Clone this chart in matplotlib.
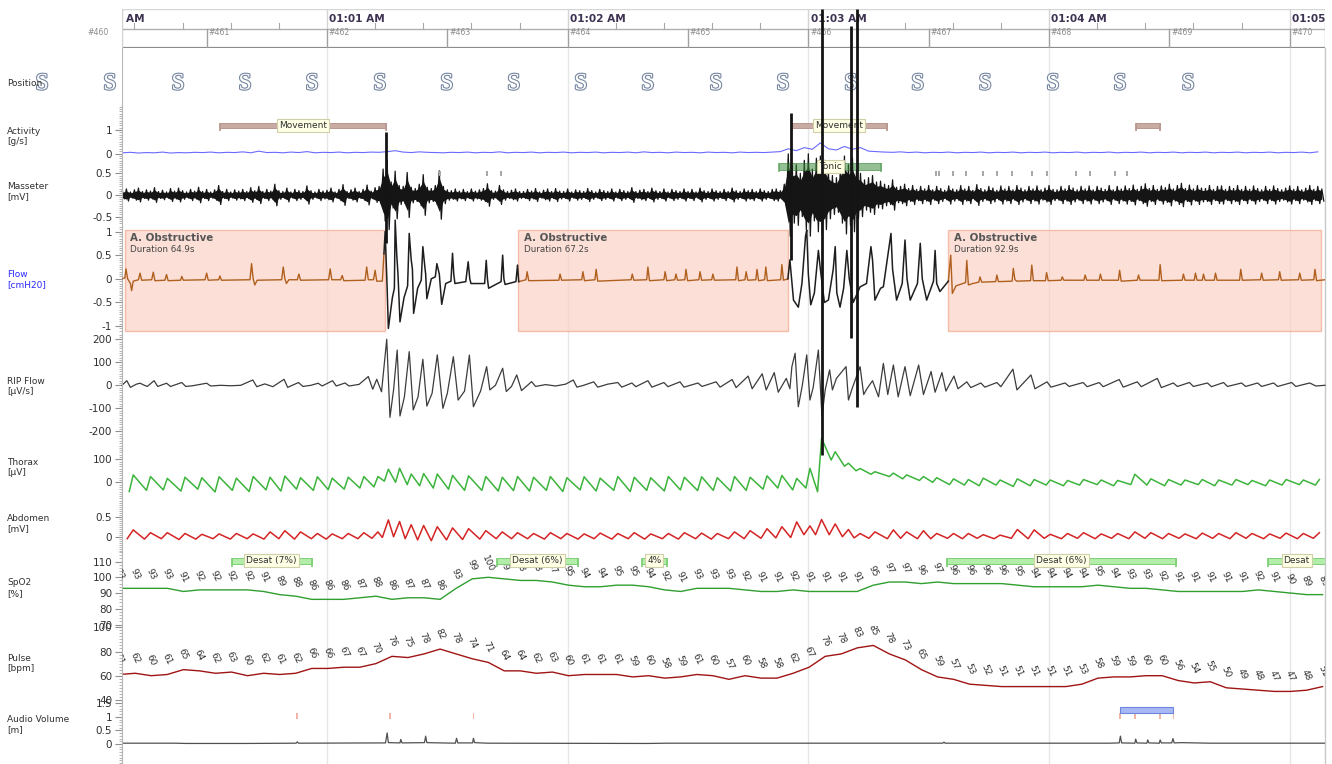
import matplotlib
matplotlib.use("Agg")
import matplotlib.pyplot as plt
import matplotlib.patheffects as pe
from matplotlib.patches import Rectangle
from matplotlib.ticker import FixedLocator, MultipleLocator, NullLocator, FuncFormatter

plt.rcParams['font.family'] = ['DejaVu Sans']
plt.rcParams['axes.unicode_minus'] = False

# ---------------------------------------------------------------- data
# time in seconds after 01:00:00
T_START, T_END = 8.9, 308.8
minute_t = [0, 60, 120, 180, 240, 300]
minute_labels = ["01:00 AM", "01:01 AM", "01:02 AM", "01:03 AM", "01:04 AM", "01:05 AM"]
epoch_numbers = list(range(460, 471))
EPOCH_SEC = 30
HEADER_TICK_SEC = 12

position_t = [-11.0, 5.9, 22.9, 39.6, 56.3, 73.2, 89.9, 106.6, 123.3, 140.0,
              157.0, 173.7, 190.6, 207.3, 224.1, 241.0, 257.7, 274.7]
position_code = ["S"] * len(position_t)

# activity, 2 s grid starting at 9 s
activity_t0, activity_dt = 9.0, 2.0
activity = [.03, .05, .02, .04, .03, .06, .02, .04, .03, .05,
            .04, .06, .03, .05, .04, .07, .03, .10, .04, .05,
            .03, .06, .04, .08, .03, .05, .04, .06, .03, .05,
            .04, .06, .05, .08, .12, .06, .04, .07, .05, .04,
            .03, .05, .04, .06, .03, .05, .04, .07, .03, .05,
            .04, .06, .03, .05, .04, .06, .03, .05, .04, .06,
            .03, .05, .04, .06, .03, .07, .04, .05, .03, .06,
            .04, .05, .03, .06, .04, .05, .03, .06, .04, .05,
            .04, .06, .08, .20, .12, .25, .18, .45, .20, .15,
            .30, .18, .25, .10, .08, .06, .05, .07, .04, .06,
            .03, .05, .04, .06, .03, .05, .04, .06, .03, .05,
            .04, .06, .03, .05, .04, .06, .03, .05, .04, .06,
            .03, .05, .04, .06, .03, .05, .04, .06, .03, .05,
            .04, .06, .03, .05, .04, .06, .03, .05, .04, .06,
            .03, .05, .04, .06, .03, .05, .04, .06, .03, .07]
movement_events = [(33.3, 74.7, "Movement"), (175.9, 199.6, "Movement"), (261.7, 267.7, "")]

# masseter EMG envelope (mV), 1 s grid starting at 9 s
emg_t0, emg_dt = 9.0, 1.0
emg_env = [.09, .14, .07, .12, .16, .08, .12, .09, .17, .08,
           .11, .07, .15, .09, .16, .10, .07, .13, .09, .18,
           .08, .13, .07, .12, .22, .08, .13, .07, .12, .09,
           .13, .08, .17, .10, .20, .08, .13, .09, .25, .10,
           .08, .16, .07, .13, .10, .08, .21, .10, .07, .13,
           .09, .11, .16, .07, .13, .24, .08, .12, .16, .08,
           .13, .23, .09, .17, .20, .60, .80, .30, .55, .22,
           .20, .52, .18, .15, .25, .47, .18, .15, .22, .56,
           .20, .12, .10, .14, .09, .13, .08, .14, .09, .12,
           .15, .26, .10, .09, .22, .12, .08, .11, .14, .08,
           .08, .13, .09, .15, .07, .11, .14, .08, .15, .09,
           .08, .14, .07, .12, .10, .08, .15, .10, .07, .13,
           .10, .08, .14, .07, .13, .10, .08, .17, .08, .11,
           .13, .08, .16, .10, .08, .14, .07, .13, .10, .08,
           .14, .08, .13, .07, .16, .10, .08, .14, .10, .08,
           .13, .08, .16, .10, .08, .14, .10, .13, .08, .14,
           .10, .08, .13, .14, .10, .25, .95, .65, .70, .50,
           .80, .95, .60, .85, .90, .80, .55, .45, .40, .65,
           .90, .70, .85, .55, .50, .35, .40, .45, .30, .32,
           .25, .22, .35, .18, .20, .25, .15, .22, .13, .20,
           .14, .22, .12, .20, .15, .11, .21, .14, .12, .22,
           .14, .20, .11, .24, .15, .12, .20, .16, .11, .21,
           .14, .20, .12, .22, .16, .12, .20, .14, .21, .12,
           .16, .22, .13, .12, .20, .14, .22, .16, .12, .20,
           .14, .21, .12, .20, .16, .13, .22, .12, .20, .14,
           .21, .15, .23, .13, .20, .26, .15, .22, .13, .21,
           .17, .25, .14, .22, .27, .15, .23, .14, .22, .16,
           .15, .22, .13, .20, .21, .13, .20, .15, .22, .13,
           .20, .13, .21, .15, .12, .20, .13, .21, .15, .12,
           .16, .21, .13, .20, .12, .16, .22, .13, .20, .14]
emg_spike_t = [74.7, 175.6, 183.4, 190.6, 192.1]
emg_spike_top = [1.45, 1.9, 4.3, 3.9, 4.3]
emg_spike_bottom = [-1.1, -1.5, -6.0, -3.3, -4.9]
tonic_events = [(172.8, 198.1, "Tonic")]
emg_marker_t = [88.2, 99.9, 103.4, 211.9, 212.6, 216.1, 219.4, 223.6, 227.1,
                230.8, 235.8, 239.5, 246.8, 250.2, 256.5, 259.4]

# nasal flow (cmH2O): apnea stretches and breathing stretches
flow_apnea1_t = [8.9, 9.6, 9.9, 10.3, 11.0, 11.3, 11.7, 13.0, 13.4, 13.8, 16.3, 16.7, 17.1,
                 19.6, 20.0, 20.4, 23.5, 23.8, 24.2, 29.6, 30.0, 30.4, 33.0, 33.3, 33.7,
                 40.8, 41.2, 41.6, 42.0, 42.6, 48.7, 49.1, 49.5, 49.9, 50.5, 52.6, 53.0,
                 53.4, 60.4, 60.8, 61.2, 63.4, 63.8, 64.2, 69.5, 69.9, 70.3, 71.6, 72.0,
                 72.4, 73.8, 74.2]
flow_apnea1_v = [0.0, 0.02, 0.21, 0.0, -0.1, -0.25, -0.05, -0.02, 0.12, -0.03, -0.02, 0.14, -0.04,
                 -0.03, 0.09, -0.04, -0.03, 0.05, -0.03, -0.02, 0.12, -0.03, -0.02, 0.06, -0.03,
                 -0.02, 0.32, 0.0, -0.13, -0.03, -0.02, 0.25, 0.0, -0.1, -0.02, -0.02, 0.1,
                 -0.03, -0.02, 0.21, -0.02, -0.02, 0.07, -0.04, -0.03, 0.25, -0.02, -0.02, 0.18,
                 -0.05, -0.05, 0.53]
flow_breath1_t = [74.2, 74.5, 75.0, 75.3, 76.3, 76.8, 77.0, 77.4, 77.7, 78.2, 79.2, 80.1, 80.5,
                  81.0, 81.3, 81.6, 82.6, 83.5, 83.9, 84.4, 84.6, 84.9, 86.0, 87.0, 87.4, 88.0,
                  88.6, 89.6, 90.9, 91.3, 91.6, 91.9, 94.6, 95.2, 95.6, 95.9, 99.3, 99.7, 100.0,
                  100.3, 103.4, 103.8, 104.1, 104.4, 107.1, 107.5, 107.8]
flow_breath1_v = [0.53, 1.0, -0.2, -1.05, -0.4, -0.2, 1.24, 0.5, 0.1, -0.91, -0.4, -0.15, 0.96,
                  0.4, 0.2, -0.73, -0.2, -0.03, 0.68, 0.25, 0.1, -0.42, 0.0, 0.04, 0.32, 0.1,
                  -0.54, -0.1, -0.05, 0.54, 0.1, -0.1, -0.06, 0.36, 0.0, -0.1, -0.1, 0.39, 0.0,
                  -0.2, -0.06, 0.5, 0.0, -0.12, -0.06, 0.29, -0.06]
flow_apnea2_t = [107.8, 109.6, 109.9, 110.3, 117.8, 118.1, 118.5, 123.5, 123.8, 124.2, 126.8,
                 127.1, 127.5, 135.8, 136.1, 136.5, 139.7, 140.0, 140.4, 144.0, 144.3, 144.7,
                 146.7, 147.0, 147.4, 149.2, 149.5, 149.9, 152.7, 153.0, 153.4, 155.9, 156.2,
                 156.6, 161.9, 162.2, 162.6, 164.2, 164.5, 164.9, 166.9, 167.2, 167.6, 169.1,
                 169.4, 169.8, 173.1, 173.4, 173.8, 174.9]
flow_apnea2_v = [-0.06, -0.02, 0.15, -0.04, -0.03, 0.1, -0.03, -0.02, 0.15, -0.04, -0.02,
                 0.2, -0.05, -0.02, 0.1, -0.03, -0.02, 0.25, -0.04, -0.02, 0.15, -0.04,
                 -0.02, 0.1, -0.03, -0.02, 0.2, -0.04, -0.02, 0.15, -0.03, -0.02, 0.1,
                 -0.03, -0.02, 0.25, -0.04, -0.02, 0.15, -0.03, -0.02, 0.2, -0.04, -0.02,
                 0.25, -0.04, -0.02, 0.3, -0.03, 0.0]
flow_breath2_t = [174.9, 175.4, 176.3, 177.5, 178.4, 179.3, 179.6, 180.0, 180.6, 181.5, 182.5,
                  183.0, 184.0, 185.0, 186.2, 186.7, 187.1, 187.9, 188.8, 189.6, 190.2, 191.2,
                  192.9, 194.5, 195.6, 196.0, 196.6, 198.0, 198.7, 200.6, 201.0, 202.0, 203.4,
                  204.1, 204.6, 205.4, 207.2, 207.9, 208.4, 209.5, 211.2, 211.6, 212.0, 212.8,
                  214.9]
flow_breath2_v = [0.0, 0.4, -0.45, -0.6, -0.1, 0.9, 1.03, 0.1, -0.55, -0.3, 0.6, 0.2, -0.5,
                  -0.45, 0.2, 0.68, -0.3, -0.6, -0.2, 0.6, 0.0, -0.5, -0.17, -0.1, 0.68, 0.4,
                  -0.45, -0.2, -0.17, 0.96, 0.2, -0.45, -0.1, 0.82, 0.0, -0.45, -0.1, 0.75, 0.0,
                  -0.45, -0.05, 0.6, -0.1, -0.27, -0.05]
flow_apnea3_t = [214.9, 215.5, 215.9, 216.8, 219.2, 219.5, 219.9, 221.0, 222.5, 222.8, 223.2,
                 226.7, 227.0, 227.4, 230.8, 231.1, 231.5, 232.0, 235.4, 235.7, 236.1, 239.1,
                 239.4, 239.8, 243.0, 243.3, 243.7, 248.7, 249.0, 249.4, 252.5, 252.8, 253.2,
                 257.3, 257.6, 258.0, 262.0, 262.3, 262.7, 267.4, 267.7, 268.1, 273.2, 273.5,
                 273.9, 276.2, 276.5, 276.9, 278.2, 278.5, 278.9, 281.2, 281.5, 281.9, 287.5,
                 287.8, 288.2, 292.7, 293.0, 293.4, 297.2, 297.5, 297.9, 302.2, 302.5, 302.9,
                 306.0, 306.3, 306.7, 308.8]
flow_apnea3_v = [-0.05, 0.5, -0.31, -0.15, -0.08, 0.39, -0.13, -0.1, -0.07, 0.04, -0.07,
                 -0.06, 0.08, -0.06, -0.05, 0.22, -0.02, -0.05, -0.04, 0.29, -0.04, -0.04,
                 0.13, -0.04, -0.03, 0.04, -0.03, -0.03, 0.08, -0.03, -0.03, 0.1, -0.03,
                 -0.03, 0.18, -0.05, -0.03, 0.08, -0.03, -0.03, 0.3, -0.04, -0.03, 0.1,
                 -0.03, -0.03, 0.12, -0.03, -0.03, 0.1, -0.03, -0.03, 0.12, -0.03, -0.03,
                 0.2, -0.03, -0.02, 0.12, -0.03, -0.02, 0.15, -0.03, -0.02, 0.12, -0.03,
                 -0.02, 0.2, -0.04, -0.02]
apnea_start = [9.6, 107.7, 214.8]
apnea_duration = [64.9, 67.2, 92.9]
apnea_type = ["A. Obstructive"] * 3

# RIP flow (uV/s)
rip_t = [8.9, 10.1, 11.0, 12.5, 13.4, 14.5, 15.2, 16.9, 17.8, 20.0, 21.0, 23.8, 24.8, 26.5,
         30.0, 31.0, 33.5, 36.0, 38.5, 41.5, 42.5, 44.5, 46.5, 49.3, 50.2, 52.9, 54.0, 56.0,
         57.8, 58.8, 61.4, 62.3, 64.5, 65.5, 68.0, 70.3, 71.4, 72.4, 73.6, 74.9, 75.7, 76.6,
         77.5, 78.2, 79.3, 80.5, 81.5, 82.7, 83.9, 84.9, 86.2, 87.5, 88.9, 90.0, 91.5, 92.7,
         94.3, 95.5, 96.5, 98.3, 99.8, 100.6, 102.0, 103.8, 104.7, 106.0, 107.3, 108.5, 110.0,
         111.0, 112.0, 114.5, 117.0, 119.5, 121.4, 122.3, 124.0, 126.5, 127.5, 130.0, 132.5,
         133.5, 136.0, 137.0, 140.0, 141.0, 144.0, 145.0, 148.0, 149.0, 152.5, 153.5, 157.0,
         158.0, 161.0, 162.0, 165.0, 166.0, 168.5, 169.5, 171.5, 172.5, 174.5, 175.4, 175.9,
         176.7, 177.5, 178.5, 179.6, 180.4, 181.2, 182.5, 183.4, 184.2, 185.3, 186.0, 187.0,
         189.4, 190.0, 191.0, 192.9, 193.8, 194.6, 196.0, 197.5, 198.7, 199.8, 201.2, 202.4,
         204.1, 205.4, 207.5, 208.7, 210.6, 211.6, 213.3, 214.3, 216.3, 217.3, 219.5, 220.5,
         223.0, 224.0, 227.0, 228.0, 231.0, 232.0, 235.5, 236.5, 239.5, 240.5, 244.0, 245.0,
         248.5, 249.5, 252.5, 253.5, 257.5, 258.5, 262.0, 263.0, 267.0, 268.0, 271.0, 272.0,
         275.0, 276.0, 279.5, 280.5, 283.5, 284.5, 288.0, 289.0, 292.0, 293.0, 296.0, 297.0,
         300.5, 301.5, 305.0, 306.5, 308.8]
rip_v = [0, 20, -9, 5, 9, 0, -5, 20, -5, 9, -5, 12, -5, -2,
         9, -3, 0, -2, 0, 23, -6, 6, -6, 26, -9, 12, -5, 0,
         9, -3, 20, -3, 10, -3, 4, 38, -17, 26, -28, 200, -139, -20,
         153, -133, -50, 146, -107, -50, 113, -90, -35, 132, -100, -35, 124, -64,
         -25, 131, -93, -25, 81, -20, 0, 74, -27, -5, 45, -23, 0,
         16, -5, 3, -3, 5, 23, -8, 0, 15, -8, 5, 12,
         -8, 10, -6, 20, -8, 12, -6, 15, -8, 10, -5, 15,
         -8, 25, -10, 40, -15, 50, -20, 55, -30, 30, -15, 81,
         139, -93, 0, 132, -64, -10, 153, -136, -20, 67, -20, 30,
         81, -64, -10, 81, -40, -15, 20, -50, 95, -40, 88, -50,
         81, -45, 88, -40, 60, -30, 55, -25, 40, -15, 15, -10,
         10, -8, 12, -6, 70, -20, 45, -15, 15, -8, 10, -5,
         12, -6, 12, -6, 25, -8, 15, -6, 30, -10, 10, -5,
         12, -5, 10, -6, 12, -5, 10, -5, 10, -5, 10, -5,
         12, -5, 10, -3, 0]

# breath peak times shared by thorax and abdomen belts
breath_t = [11.7, 16.0, 20.2, 24.6, 28.8, 33.1, 37.4, 41.6, 45.8, 49.5, 53.4, 57.6, 61.3, 65.3,
            69.2, 72.7, 75.3, 78.1, 81.0, 84.1, 87.5, 91.3, 95.3, 99.6, 103.7, 107.5,
            111.5, 115.7, 119.8, 124.1, 128.1, 132.5, 136.6, 140.7, 145.1, 149.1, 153.4, 157.3,
            161.6, 165.5, 169.7, 173.4, 177.1, 180.4, 183.3, 186.7, 190.0, 192.9, 196.6, 201.2,
            204.5, 208.7, 212.0, 216.2, 219.9, 223.6, 227.8, 232.1, 236.3, 240.3, 244.6, 248.6,
            253.0, 257.1, 261.4, 265.4, 269.8, 273.9, 278.2, 282.3, 286.6, 290.6, 295.0, 299.1,
            303.4, 307.4]
thorax_peak = [32, 25, 17, 22, 20, 24, 18, 25, 22, 27, 20, 24, 18, 22, 25, 25,
               57, 61, 36, 38, 36, 30, 28, 25, 22, 25,
               22, 25, 20, 24, 18, 25, 22, 20, 25, 22, 24, 20, 25, 22, 28, 30,
               17, 61, 191, 133, 83, 60, 46, 40, 32, 25, 20,
               15, 12, 18, 10, 15, 12, 10, 8, 12, 10, 8, 35, 15, 12, 10, 12, 10, 12, 8, 10,
               12, 10, 12]
thorax_trough = [-40, -35, -33, -38, -30, -42, -35, -40, -33, -38, -30, -35, -32, -30, -25, -20,
                 5, 0, -10, -15, -25, -30, -35, -35, -38, -36,
                 -38, -35, -40, -33, -38, -35, -40, -35, -38, -33, -36, -35, -38, -35, -30, -25,
                 -33, -25, -41, 97, 70, 50, 35, 25, 15, 8, 0,
                 -10, -12, -15, -12, -18, -15, -12, -15, -12, -10, -15, -10, -12, -15, -12,
                 -10, -15, -12, -10, -15, -12, -10, -12]
abdomen_peak = [.17, .10, .10, .08, .06, .07, .08, .07, .12, .15, .12, .08, .07, .08, .10, .12,
                .42, .38, .30, .28, .25, .22, .20, .15, .12, .10,
                .08, .10, .08, .07, .09, .08, .10, .07, .08, .10, .09, .08, .12, .15, .20, .25,
                .37, .27, .43, .32, .18, .08, .12, .17, .12, .15, .08,
                .08, .08, .05, .04, .18, .17, .06, .08, .10, .07, .08, .12, .10, .08, .07, .09,
                .08, .10, .08, .07, .09, .08, .10]
abdomen_trough = [-.05, -.06, -.05, -.07, -.06, -.05, -.06, -.05, -.06, -.05, -.06, -.05, -.06,
                  -.05, -.05, -.04,
                  -.02, .00, -.05, -.08, -.10, -.08, -.07, -.06, -.05, -.05,
                  -.05, -.06, -.05, -.06, -.05, -.06, -.05, -.06, -.05, -.06, -.05, -.06, -.05,
                  -.05, -.04, -.03,
                  -.02, .05, .05, .05, .00, -.03, -.04, -.05, -.04, -.05, -.05,
                  -.04, -.05, -.04, -.05, -.04, -.05, -.04, -.05, -.04, -.05, -.04, -.05, -.04,
                  -.05, -.04, -.05, -.04, -.05, -.04, -.05, -.04, -.05, -.04]

# oximetry, one sample every 4 s
ox_t0, ox_dt = 8.2, 4.0
spo2 = [93, 93, 93, 93, 91, 92, 92, 92, 92, 91, 89, 88, 86, 86, 86, 87, 88, 86, 87, 87, 86,
        93, 99, 100, 99, 98, 98, 97, 95, 94, 94, 95, 95, 94, 92, 91, 93, 93, 93, 92, 91, 91,
        92, 91, 91, 91, 91, 95, 97,
        97, 96, 97, 96, 96, 96, 96, 95, 94, 94, 94, 94, 95, 94, 93, 93, 92, 91, 91, 91, 91,
        91, 92, 91, 90, 89, 89]
pulse = [61, 62, 60, 61, 65, 64, 62, 63, 60, 62, 61, 62, 66, 66, 67, 67, 70, 76, 75, 78, 82,
         78, 74, 71, 64, 64, 62, 63, 60, 61, 61, 61, 59, 60, 58, 59, 61, 60, 57, 60, 58, 58,
         62, 67, 76, 78, 83, 85, 78,
         73, 65, 59, 57, 53, 52, 51, 51, 51, 51, 51, 53, 58, 59, 59, 60, 60, 56, 54, 55, 50,
         49, 48, 47, 47, 48, 51]
desat_events = [(36.2, 56.2, "Desat (7%)"), (102.3, 122.7, "Desat (6%)"), (138.5, 144.7, "4%"),
                (214.5, 271.7, "Desat (6%)"), (294.7, 320.0, "Desat")]

# audio volume
audio_t = [8.9, 22.0, 25.0, 40.0, 52.3, 52.6, 52.9, 74.6, 75.0, 75.3, 78.2, 78.4, 78.7, 84.3,
           84.6, 84.9, 92.0, 92.3, 92.6, 96.3, 96.5, 96.8, 100.0, 140.0, 145.0, 170.0, 185.0,
           200.0, 213.5, 213.8, 214.1, 236.0, 255.0, 257.5, 257.8, 258.1, 261.4, 261.6, 261.9,
           264.4, 264.6, 264.9, 267.5, 267.7, 268.0, 270.6, 270.9, 271.2, 273.0, 280.0, 308.8]
audio_v = [0.03, 0.03, 0.02, 0.02, 0.03, 0.08, 0.03, 0.04, 0.41, 0.05, 0.04, 0.17, 0.04, 0.05,
           0.29, 0.05, 0.03, 0.21, 0.04, 0.04, 0.21, 0.05, 0.03, 0.02, 0.03, 0.03, 0.03,
           0.03, 0.03, 0.07, 0.03, 0.03, 0.03, 0.04, 0.29, 0.04, 0.03, 0.18, 0.04,
           0.03, 0.15, 0.04, 0.03, 0.15, 0.04, 0.04, 0.2, 0.04, 0.05, 0.03, 0.03]
audio_marker_t = [52.5, 75.7, 96.5, 257.7, 261.5, 267.6, 271.0]
snore_events = [(257.7, 271.0)]

# ---------------------------------------------------------------- layout
W, H = 1332, 764
X_LEFT, X_RIGHT = 122, 1325
fig = plt.figure(figsize=(W / 100, H / 100), dpi=100)
fig.patch.set_facecolor("white")

TXT = "#303030"
AXIS_GREY = "#b4b4b4"
tick_fmt = FuncFormatter(lambda v, pos: "%g" % v)


def px_box(ytop, ybot):
    return [X_LEFT / W, 1 - ybot / H, (X_RIGHT - X_LEFT) / W, (ybot - ytop) / H]


def channel(ytop, ybot, ref_val, ref_px, px_per_unit, majors, minor, z=2):
    ax = fig.add_axes(px_box(ytop, ybot), zorder=z)
    ax.set_facecolor("none")
    ax.set_xlim(T_START, T_END)
    ax.set_ylim(ref_val - (ybot - ref_px) / px_per_unit, ref_val + (ref_px - ytop) / px_per_unit)
    for s in ("top", "right", "bottom"):
        ax.spines[s].set_visible(False)
    ax.spines["left"].set_color(AXIS_GREY)
    ax.spines["left"].set_linewidth(0.8)
    ax.xaxis.set_major_locator(NullLocator())
    ax.yaxis.set_major_locator(FixedLocator(majors))
    ax.yaxis.set_major_formatter(tick_fmt)
    ax.yaxis.set_minor_locator(MultipleLocator(minor))
    ax.tick_params(axis="y", which="major", length=5, width=0.8, color="#909090",
                   labelsize=7.5, labelcolor=TXT, pad=2)
    ax.tick_params(axis="y", which="minor", length=2.2, width=0.6, color="#a8a8a8")
    return ax


# background with minute grid lines
bg = fig.add_axes(px_box(48, H), zorder=0)
bg.set_xlim(T_START, T_END)
bg.set_ylim(0, 1)
bg.axis("off")
for t in minute_t:
    if T_START < t < T_END:
        bg.axvline(t, color="#e6e6e6", lw=1.0)
bg.axvline(T_END, color="#c8c8c8", lw=1.0, clip_on=False)

# header: clock row and epoch row
hd = fig.add_axes(px_box(9, 48), zorder=1)
hd.set_xlim(T_START, T_END)
hd.set_ylim(0, 39)
hd.axis("off")
hd.plot([T_START, T_END], [39, 39], color="#d6d6d6", lw=1.0)
hd.plot([T_START, T_END], [19.5, 19.5], color="#b0b0b0", lw=1.0)
hd.plot([T_START, T_END], [0, 0], color="#8c8c8c", lw=1.6)
hd.plot([T_START, T_START], [0, 39], color="#d0d0d0", lw=1.0)
hd.plot([T_END, T_END], [0, 39], color="#c8c8c8", lw=1.0)
t = minute_t[0]
while t <= T_END + 1:
    if T_START < t < T_END and t % 60:
        hd.plot([t, t], [19.5, 25.5], color="#a8a8a8", lw=0.8)
    t += HEADER_TICK_SEC
for t, lab in zip(minute_t, minute_labels):
    if T_START < t < T_END:
        hd.plot([t, t], [19.5, 39], color="#d4d4d4", lw=1.0)
    hd.text(t + 0.6, 29.5, lab, fontsize=7.6, fontweight="bold", color="#3e3252",
            ha="left", va="center", clip_on=True)
for n in epoch_numbers:
    te = (n - epoch_numbers[0]) * EPOCH_SEC
    if T_START < te < T_END:
        hd.plot([te, te], [0, 19.5], color="#a0a0a0", lw=1.0)
    hd.text(te + 0.4, 15.5, "#%d" % n, fontsize=5.6, color="#8c8c8c",
            ha="left", va="center", clip_on=False)

# position
pos = fig.add_axes(px_box(48, 105), zorder=3)
pos.set_xlim(T_START, T_END)
pos.set_ylim(0, 1)
pos.axis("off")
pos.plot([0, 0], [0, 1], transform=pos.transAxes, color=AXIS_GREY, lw=0.8)
for t, c in zip(position_t, position_code):
    pos.text(t, 0.37, c, fontsize=17, family="Liberation Serif", color="white",
             ha="center", va="center", clip_on=False,
             path_effects=[pe.withStroke(linewidth=1.6, foreground="#7686a0")])


def bracket(ax, t0, t1, y_hi, y_lo, y_hook, face, edge, label, label_y):
    ax.add_patch(Rectangle((t0, y_lo), t1 - t0, y_hi - y_lo, facecolor=face,
                           edgecolor=edge, lw=0.7, zorder=4))
    ax.plot([t0, t0], [y_hi, y_hook], color=edge, lw=1.3, zorder=4, solid_capstyle="butt")
    ax.plot([t1, t1], [y_hi, y_hook], color=edge, lw=1.3, zorder=4, solid_capstyle="butt")
    if label:
        ax.text((t0 + min(t1, T_END)) / 2, label_y, label, fontsize=6.5, color=TXT,
                ha="center", va="center", zorder=6,
                bbox=dict(boxstyle="square,pad=0.22", fc="#ffffe6", ec="#cfcfa8", lw=0.8))


# activity
act = channel(105, 163, 0, 153.5, 23.5, [0, 1], 0.1)
act_t = [activity_t0 + i * activity_dt for i in range(len(activity))]
act.plot(act_t, activity, color="#6a6aff", lw=0.8)
for t0, t1, lab in movement_events:
    bracket(act, t0, t1, 1.31, 1.07, 0.95, "#c8aca4", "#b89890", lab, 1.19)

# masseter: each envelope sample drawn as an up/down stroke of the raw trace
mas = channel(163, 225, 0, 195, 43.3, [-0.5, 0, 0.5], 0.05, z=6)
zig_t, zig_v = [], []
for i, a in enumerate(emg_env):
    t = emg_t0 + i * emg_dt
    zig_t += [t, t + emg_dt / 2]
    zig_v += [a, -a]
mas.plot(zig_t, zig_v, color="#151515", lw=0.9, clip_on=False)
core_t = [emg_t0 + i * emg_dt for i in range(len(emg_env))]
mas.fill_between(core_t, [-0.68 * a for a in emg_env], [0.68 * a for a in emg_env],
                 color="#151515", lw=0, clip_on=False)
mas.vlines(emg_spike_t, emg_spike_bottom, emg_spike_top, color="#141414", lw=2.0, clip_on=False,
           zorder=8)
for t0, t1, lab in tonic_events:
    mas.add_patch(Rectangle((t0, 0.585), t1 - t0, 0.15, facecolor="#3c8c3c", alpha=0.55,
                            edgecolor="#2a7a2a", lw=0.7, zorder=5))
    mas.plot([t0, t0], [0.735, 0.55], color="#6aa86a", lw=1.2, zorder=5)
    mas.plot([t1, t1], [0.735, 0.55], color="#6aa86a", lw=1.2, zorder=5)
    mas.text((t0 + t1) / 2, 0.66, lab, fontsize=6.5, color=TXT, ha="center", va="center",
             zorder=7, bbox=dict(boxstyle="square,pad=0.22", fc="#ffffe6", ec="#cfcfa8", lw=0.8))
for t in emg_marker_t:
    mas.add_patch(Rectangle((t - 0.25, 0.43), 0.5, 0.12, facecolor="#a8a8a8", lw=0, zorder=4))

# flow
flw = channel(225, 333, 0, 278.8, 47.3, [-1, -0.5, 0, 0.5, 1], 0.05, z=4)
for t0, dur, kind in zip(apnea_start, apnea_duration, apnea_type):
    flw.add_patch(Rectangle((t0, -1.10), dur, 2.13, facecolor="#fbd3c6", alpha=0.7,
                            edgecolor="#f4a78c", lw=1.0, zorder=1))
    flw.text(t0 + 1.4, 0.87, kind, fontsize=7.4, fontweight="bold", color="#555555",
             ha="left", va="center", zorder=3)
    flw.text(t0 + 1.4, 0.63, "Duration %.1fs" % dur, fontsize=6.3, color="#444444",
             ha="left", va="center", zorder=3)
BROWN = "#b0601e"
for tt, vv in ((flow_apnea1_t, flow_apnea1_v), (flow_apnea2_t, flow_apnea2_v),
               (flow_apnea3_t, flow_apnea3_v)):
    flw.plot(tt, vv, color=BROWN, lw=1.0, zorder=4)
for tt, vv in ((flow_breath1_t, flow_breath1_v), (flow_breath2_t, flow_breath2_v)):
    flw.plot(tt, vv, color="#1e1e1e", lw=1.1, zorder=4, clip_on=False)

# RIP flow
rip = channel(333, 440, 0, 385.3, 0.2305, [-200, -100, 0, 100, 200], 10)
rip.plot(rip_t, rip_v, color="#3c3c3c", lw=0.9, clip_on=False)


def belt_path(peaks, troughs, rise):
    ts, vs = [], []
    for t, p, q in zip(breath_t, peaks, troughs):
        ts += [t - rise, t]
        vs += [q, p]
    return ts, vs


# thorax
tho = channel(440, 500, 0, 482.3, 0.23, [0, 100], 10)
tt, vv = belt_path(thorax_peak, thorax_trough, 1.0)
tho.plot(tt, vv, color="#3cb43c", lw=1.1, clip_on=False)

# abdomen
abd = channel(500, 552, 0, 536.7, 40.0, [0, 0.5], 0.05)
tt, vv = belt_path(abdomen_peak, abdomen_trough, 1.5)
abd.plot(tt, vv, color="#d42424", lw=1.1)

# SpO2
spo = channel(552, 626, 100, 577.3, 1.575, [70, 80, 90, 100, 110], 2)
ox_t = [ox_t0 + i * ox_dt for i in range(len(spo2))]
spo.plot(ox_t, spo2, color="#2f9f2f", lw=1.0)
for t, v in zip(ox_t, spo2):
    spo.annotate(str(v), (t, v), xytext=(0, 10), textcoords="offset points", fontsize=6.5,
                 color=TXT, rotation=-65, ha="center", va="center", annotation_clip=False,
                 clip_on=True)
for t0, t1, lab in desat_events:
    bracket(spo, t0, t1, 112.4, 108.6, 106.6, "#b2eeaa", "#80d078", lab, 110.5)

# pulse
pul = channel(626, 701, 60, 675.7, 1.21, [40, 60, 80, 100], 2.5)
pul.plot(ox_t, pulse, color="#a01414", lw=1.0)
for t, v in zip(ox_t, pulse):
    pul.annotate(str(v), (t, v), xytext=(0, 11), textcoords="offset points", fontsize=6.5,
                 color=TXT, rotation=-65, ha="center", va="center", annotation_clip=False,
                 clip_on=True)

# audio volume
aud = channel(701, 764, 0, 744, 27.1, [0, 0.5, 1, 1.5], 0.1)
aud.plot(audio_t, audio_v, color="#505050", lw=0.9)
for t in audio_marker_t:
    aud.add_patch(Rectangle((t - 0.2, 0.93), 0.4, 0.2, facecolor="#f2b4a4", lw=0, zorder=3))
for t0, t1 in snore_events:
    aud.add_patch(Rectangle((t0, 1.13), t1 - t0, 0.22, facecolor="#a8b8f2", edgecolor="#6c86e0",
                            lw=0.8, zorder=3))

# channel names
channel_names = [("Position", 83, TXT), ("Activity\n[g/s]", 136.5, TXT),
                 ("Masseter\n[mV]", 191.5, TXT), ("Flow\n[cmH20]", 279.5, "#2a2aff"),
                 ("RIP Flow\n[\u00b5V/s]", 386.5, TXT), ("Thorax\n[\u00b5V]", 467.5, TXT),
                 ("Abdomen\n[mV]", 523.5, TXT), ("SpO2\n[%]", 588, TXT),
                 ("Pulse\n[bpm]", 663.5, TXT), ("Audio Volume\n[m]", 724.5, TXT)]
for name, ypx, col in channel_names:
    fig.text(7 / W, 1 - ypx / H, name, fontsize=6.5, color=col, ha="left", va="center",
             linespacing=1.25)

fig.savefig("out.png", dpi=100)
